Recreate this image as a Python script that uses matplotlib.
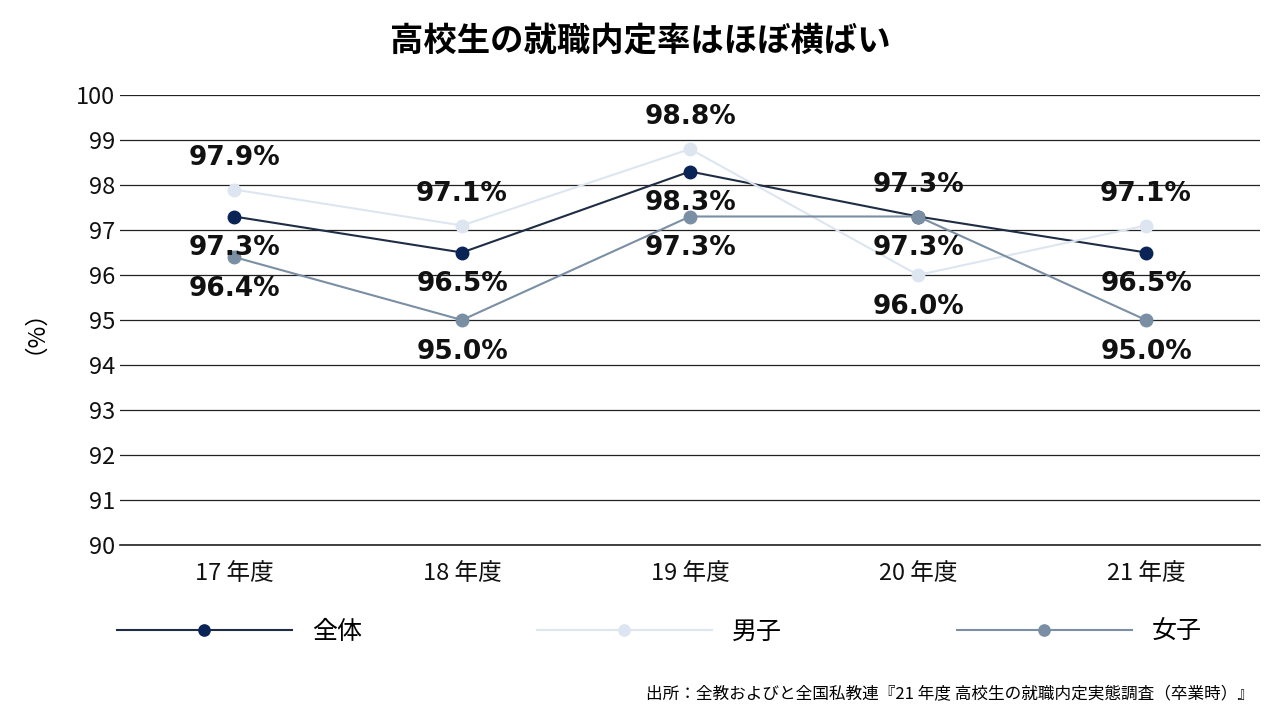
import matplotlib
matplotlib.use("Agg")
import matplotlib.pyplot as plt

plt.rcParams["font.family"] = "Noto Sans CJK JP"

categories = ["17 年度", "18 年度", "19 年度", "20 年度", "21 年度"]
total = [97.3, 96.5, 98.3, 97.3, 96.5]
male = [97.9, 97.1, 98.8, 96.0, 97.1]
female = [96.4, 95.0, 97.3, 97.3, 95.0]
# label above (+1) or below (-1) each point
total_pos = [-1, -1, -1, 1, -1]
male_pos = [1, 1, 1, -1, 1]
female_pos = [-1, -1, -1, -1, -1]

series = [
    ("全体", total, total_pos, "#0a2456", "#1f2d44"),
    ("男子", male, male_pos, "#dde6f0", "#dde6f0"),
    ("女子", female, female_pos, "#7a8fa3", "#7a8fa3"),
]

fig = plt.figure(figsize=(12.8, 7.2), dpi=100)
ax = fig.add_axes([120 / 1280, 1 - 545 / 720, 1140 / 1280, 450 / 720])
x = range(len(categories))

for name, vals, pos, mc, lc in series:
    ax.plot(x, vals, color=lc, linewidth=1.5, marker="o", markersize=9,
            markerfacecolor=mc, markeredgecolor=mc, label=name, zorder=3)
    for xi, v, p in zip(x, vals, pos):
        ax.annotate(f"{v:.1f}%", (xi, v), xytext=(0, 23 * p), textcoords="offset points",
                    ha="center", va="center", fontsize=19, fontweight="bold",
                    color="#111111", fontfamily="DejaVu Sans", zorder=4)

ax.set_xlim(-0.5, 4.5)
ax.set_ylim(90, 100)
ax.set_yticks(range(90, 101))
ax.set_xticks(list(x))
ax.set_xticklabels(categories)
ax.tick_params(axis="both", length=0, labelsize=17, colors="#111111")
ax.tick_params(axis="x", pad=12)
ax.grid(axis="y", color="#222222", linewidth=0.9)
ax.axhline(90, color="#222222", linewidth=1.2, clip_on=False)
ax.set_axisbelow(True)
for s in ax.spines.values():
    s.set_visible(False)
ax.set_ylabel("（%）", fontsize=17, rotation=90, labelpad=30)

fig.suptitle("高校生の就職内定率はほぼ横ばい", y=0.965, fontsize=24, fontweight="bold")

fig.legend(loc="center", bbox_to_anchor=(0.515, 1 - 632 / 720), ncol=3, frameon=False,
           fontsize=18, handlelength=7, columnspacing=7, markerscale=0.9)

fig.text(0.98, 1 - 695 / 720, "出所：全教およびと全国私教連『21 年度 高校生の就職内定実態調査（卒業時）』",
         ha="right", va="center", fontsize=12)

fig.savefig("out.png")
